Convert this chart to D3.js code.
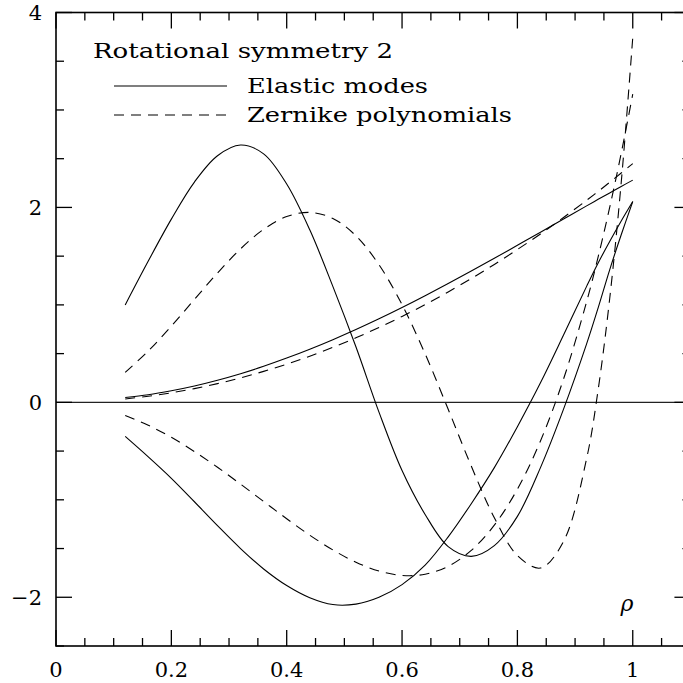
<!DOCTYPE html>
<html>
<head>
<meta charset="utf-8">
<script src="https://cdn.jsdelivr.net/npm/d3@7"></script>
<style>
  html, body { margin: 0; padding: 0; background: #fff; }
  svg { display: block; }
  text { font-family: "DejaVu Serif", serif; fill: #000; }
</style>
</head>
<body>
<svg id="chart" width="683" height="683"></svg>
<script>
// Radial coordinate samples
const rho = [0.12, 0.16, 0.20, 0.24, 0.28, 0.32, 0.36, 0.40, 0.44, 0.48, 0.52, 0.56,
             0.60, 0.64, 0.68, 0.72, 0.76, 0.80, 0.84, 0.88, 0.92, 0.94, 0.96, 0.98, 1.00];

// Elastic modes (solid)
const elasticA = [0.050, 0.078, 0.119, 0.168, 0.227, 0.294, 0.370, 0.454, 0.545, 0.643, 0.747, 0.857,
                  0.973, 1.094, 1.219, 1.347, 1.478, 1.612, 1.746, 1.881, 2.016, 2.083, 2.149, 2.215, 2.280];
const elasticB = [1.00, 1.45, 1.88, 2.26, 2.53, 2.64, 2.55, 2.24, 1.77, 1.19, 0.57, -0.10,
                  -0.70, -1.15, -1.48, -1.58, -1.47, -1.17, -0.67, -0.07, 0.60, 0.97, 1.36, 1.72, 2.06];
const elasticC = [-0.35, -0.56, -0.78, -1.02, -1.265, -1.50, -1.71, -1.88, -2.005, -2.075, -2.07, -2.00,
                  -1.87, -1.67, -1.38, -1.04, -0.67, -0.25, 0.20, 0.69, 1.19, 1.43, 1.65, 1.86, 2.06];

// Zernike polynomials (dashed)
const zernike2 = [0.035, 0.063, 0.098, 0.141, 0.192, 0.251, 0.318, 0.392, 0.474, 0.564, 0.662, 0.768,
                  0.882, 1.003, 1.133, 1.270, 1.415, 1.568, 1.728, 1.897, 2.073, 2.164, 2.258, 2.353, 2.449];
const zernike4 = [-0.134, -0.235, -0.359, -0.505, -0.666, -0.839, -1.017, -1.194, -1.363, -1.514, -1.640, -1.731,
                  -1.776, -1.764, -1.682, -1.519, -1.260, -0.891, -0.396, 0.239, 1.032, 1.493, 2.000, 2.556, 3.162];
const zernike6 = [0.308, 0.527, 0.782, 1.056, 1.327, 1.575, 1.775, 1.906, 1.949, 1.887, 1.709, 1.412,
                  1.002, 0.498, -0.071, -0.654, -1.184, -1.571, -1.700, -1.427, -0.577, 0.130, 1.063, 2.255, 3.742];

// Axis ticks
const xMajor = [0, 0.2, 0.4, 0.6, 0.8, 1];
const xLabels = ["0", "0.2", "0.4", "0.6", "0.8", "1"];
const xMinor = d3.range(0, 22).map(i => i * 0.05);
const yMajor = [-2, 0, 2, 4];
const yLabels = ["\u22122", "0", "2", "4"];
const yMinor = d3.range(-5, 9).map(i => i * 0.5);

const legendTitle = "Rotational symmetry 2";
const legendItems = [
  { name: "Elastic modes", dash: null },
  { name: "Zernike polynomials", dash: "10,7" }
];

(function draw() {
  const svg = d3.select("#chart");
  const plotLeft = 56, plotTop = 12.5, plotBottom = 646;
  const x = d3.scaleLinear().domain([0, 1.1]).range([plotLeft, plotLeft + 1.1 * 576.75]);
  const y = d3.scaleLinear().domain([-2.5, 4]).range([plotBottom, plotTop]);
  const plotRight = x(1.1);

  // zero line
  svg.append("line")
    .attr("x1", x(0)).attr("x2", plotRight)
    .attr("y1", y(0)).attr("y2", y(0))
    .attr("stroke", "#222").attr("stroke-width", 1.3);

  // curves
  const line = d3.line()
    .x((d, i) => x(rho[i]))
    .y(d => y(d))
    .curve(d3.curveCatmullRom.alpha(0.5));

  const series = [
    { v: elasticA, dash: null }, { v: elasticB, dash: null }, { v: elasticC, dash: null },
    { v: zernike2, dash: "10,7" }, { v: zernike4, dash: "10,7" }, { v: zernike6, dash: "10,7" }
  ];
  svg.append("g").selectAll("path").data(series).join("path")
    .attr("d", s => line(s.v))
    .attr("fill", "none")
    .attr("stroke", "#000")
    .attr("stroke-width", 1.1)
    .attr("stroke-dasharray", s => s.dash);

  // frame
  svg.append("rect")
    .attr("x", plotLeft).attr("y", plotTop)
    .attr("width", plotRight - plotLeft).attr("height", plotBottom - plotTop)
    .attr("fill", "none").attr("stroke", "#000").attr("stroke-width", 1.6);

  // ticks
  const tk = svg.append("g").attr("stroke", "#000").attr("stroke-width", 1.3);
  const isMajorX = v => xMajor.some(m => Math.abs(m - v) < 1e-9);
  const isMajorY = v => yMajor.some(m => Math.abs(m - v) < 1e-9);
  xMinor.forEach(v => {
    const len = isMajorX(v) ? 16 : 8;
    tk.append("line").attr("x1", x(v)).attr("x2", x(v)).attr("y1", plotBottom).attr("y2", plotBottom - len);
    tk.append("line").attr("x1", x(v)).attr("x2", x(v)).attr("y1", plotTop).attr("y2", plotTop + len);
  });
  yMinor.forEach(v => {
    const len = isMajorY(v) ? 16 : 8;
    tk.append("line").attr("x1", plotLeft).attr("x2", plotLeft + len).attr("y1", y(v)).attr("y2", y(v));
    tk.append("line").attr("x1", plotRight).attr("x2", plotRight - len).attr("y1", y(v)).attr("y2", y(v));
  });

  // tick labels
  svg.append("g").selectAll("text").data(xMajor).join("text")
    .attr("x", d => x(d)).attr("y", 677)
    .attr("text-anchor", "middle")
    .attr("font-size", 21)
    .text((d, i) => xLabels[i]);
  svg.append("g").selectAll("text").data(yMajor).join("text")
    .attr("x", 42).attr("y", d => y(d))
    .attr("dy", "0.36em")
    .attr("text-anchor", "end")
    .attr("font-size", 21)
    .text((d, i) => yLabels[i]);

  // axis symbol
  svg.append("text")
    .attr("x", 627).attr("y", 611)
    .attr("text-anchor", "middle")
    .attr("font-size", 22).attr("font-style", "italic")
    .text("\u03c1");

  // legend
  svg.append("text")
    .attr("x", 93).attr("y", 58)
    .attr("font-size", 21)
    .attr("textLength", 300).attr("lengthAdjust", "spacingAndGlyphs")
    .text(legendTitle);
  const lg = svg.append("g");
  const legendY = [86, 115];
  const legendW = [181, 265];
  legendItems.forEach((it, i) => {
    lg.append("line")
      .attr("x1", 114).attr("x2", 227)
      .attr("y1", legendY[i]).attr("y2", legendY[i])
      .attr("stroke", "#000").attr("stroke-width", 1.1)
      .attr("stroke-dasharray", it.dash);
    lg.append("text")
      .attr("x", 247).attr("y", legendY[i] + 7)
      .attr("font-size", 21)
      .attr("textLength", legendW[i]).attr("lengthAdjust", "spacingAndGlyphs")
      .text(it.name);
  });
})();
</script>
</body>
</html>
